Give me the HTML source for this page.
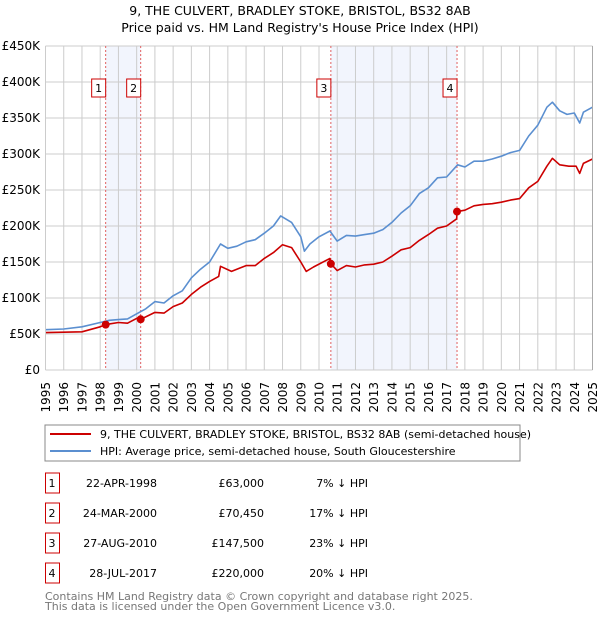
<!DOCTYPE html>
<html><head><meta charset="utf-8"><style>
body{margin:0;background:#fff;font-family:"Liberation Sans","DejaVu Sans",sans-serif;}
svg text{font-family:"DejaVu Sans","Liberation Sans",sans-serif;}
</style></head><body>
<svg id="chart" width="600" height="620" xmlns="http://www.w3.org/2000/svg">
<text x="300" y="15" text-anchor="middle" font-size="12.5" fill="#000">9, THE CULVERT, BRADLEY STOKE, BRISTOL, BS32 8AB</text>
<text x="300" y="32" text-anchor="middle" font-size="12.5" fill="#000">Price paid vs. HM Land Registry's House Price Index (HPI)</text>
<g id="plot"></g>
<rect x="45" y="425" width="475" height="36" fill="#fff" stroke="#888"/>
<line x1="50" y1="434" x2="91" y2="434" stroke="#cc0000" stroke-width="2"/>
<text x="100" y="438" font-size="11">9, THE CULVERT, BRADLEY STOKE, BRISTOL, BS32 8AB (semi-detached house)</text>
<line x1="50" y1="451" x2="91" y2="451" stroke="#5b8fd0" stroke-width="2"/>
<text x="100" y="455" font-size="11">HPI: Average price, semi-detached house, South Gloucestershire</text>
<g id="table" font-size="11"></g>
<text x="45" y="600" font-size="11" fill="#777">Contains HM Land Registry data © Crown copyright and database right 2025.</text>
<text x="45" y="610" font-size="11" fill="#777">This data is licensed under the Open Government Licence v3.0.</text>
</svg>
<script>
const hpiYears=[1995,1996,1997,1998,1998.5,1999,1999.5,2000,2000.5,2001,2001.5,2002,2002.5,2003,2003.5,2004,2004.6,2005,2005.5,2006,2006.5,2007,2007.5,2007.9,2008.5,2009,2009.2,2009.5,2010,2010.6,2011,2011.5,2012,2012.5,2013,2013.5,2014,2014.5,2015,2015.5,2016,2016.5,2017,2017.6,2018,2018.5,2019,2019.5,2020,2020.5,2021,2021.5,2022,2022.5,2022.8,2023.2,2023.6,2024,2024.3,2024.5,2025];
const hpiValues=[56,57,60,66,69,70,71,78,85,95,93,103,110,128,140,150,175,169,172,178,181,190,200,214,205,185,165,175,185,193,179,187,186,188,190,195,205,218,228,245,253,267,268,285,282,290,290,293,297,302,305,325,340,365,372,360,355,357,343,358,365];
const propYears=[1995,1997,1998,1998.3,1999,1999.5,2000.1,2000.22,2001,2001.5,2002,2002.5,2003,2003.5,2004,2004.5,2004.6,2005.2,2005.7,2006,2006.5,2007,2007.5,2008,2008.5,2009,2009.3,2009.7,2010.6,2010.65,2011,2011.5,2012,2012.5,2013,2013.5,2014,2014.5,2015,2015.5,2016,2016.5,2017,2017.55,2017.57,2018,2018.5,2019,2019.5,2020,2020.5,2021,2021.5,2022,2022.5,2022.8,2023.2,2023.7,2024.1,2024.3,2024.5,2025];
const propValues=[52,53,60,63,66,65,73,70.45,80,79,88,93,105,115,123,130,144,137,142,145,145,155,163,174,170,150,137,143,155,147.5,138,145,143,146,147,150,158,167,170,180,188,197,200,210,220,222,228,230,231,233,236,238,253,262,283,294,285,283,283,273,287,293];
const saleYears=[1998.3,2000.22,2010.65,2017.57];
const salePrices=[63,70.45,147.5,220];
const saleLabels=["1","2","3","4"];
const saleDates=["22-APR-1998","24-MAR-2000","27-AUG-2010","28-JUL-2017"];
const salePriceText=["£63,000","£70,450","£147,500","£220,000"];
const saleDiff=["7% ↓ HPI","17% ↓ HPI","23% ↓ HPI","20% ↓ HPI"];
const yTicks=[0,50,100,150,200,250,300,350,400,450];
const yTickLabels=["£0","£50K","£100K","£150K","£200K","£250K","£300K","£350K","£400K","£450K"];
const xTicks=[1995,1996,1997,1998,1999,2000,2001,2002,2003,2004,2005,2006,2007,2008,2009,2010,2011,2012,2013,2014,2015,2016,2017,2018,2019,2020,2021,2022,2023,2024,2025];

const NS="http://www.w3.org/2000/svg";
const X0=45.5,X1=592.5,Y0=370,Y1=46;
const xs=y=>X0+(y-1995)/30*(X1-X0);
const ys=v=>Y0-v/450*(Y0-Y1);
const plot=document.getElementById('plot');
function mk(tag,attrs,parent){const e=document.createElementNS(NS,tag);for(const k in attrs)e.setAttribute(k,attrs[k]);(parent||plot).appendChild(e);return e;}
for(const [a,b] of [[0,1],[2,3]]){
 const r=mk('rect',{x:xs(saleYears[a]),y:Y1,width:xs(saleYears[b])-xs(saleYears[a]),height:Y0-Y1,fill:'#f2f5fd'});
 
 
}
yTicks.forEach((t,i)=>{
 const l=mk('line',{x1:X0,x2:X1,y1:ys(t),y2:ys(t),stroke:'#ccc','stroke-width':1});
 
 
 const tx=mk('text',{x:40,y:ys(t)+4,'text-anchor':'end','font-size':12});
 
 
 tx.textContent=yTickLabels[i];
});
xTicks.forEach(t=>{
 const l=mk('line',{x1:xs(t),x2:xs(t),y1:Y1,y2:Y0,stroke:'#ccc','stroke-width':1});
 
 
 const tx=mk('text',{x:0,y:0,'text-anchor':'end','font-size':12,transform:'translate('+(xs(t)+4.5)+',382) rotate(-90)'});
 
 
 tx.textContent=t;
});
saleYears.forEach((y,i)=>{
 const l=mk('line',{x1:xs(y),x2:xs(y),y1:Y1,y2:Y0,stroke:'#e06060','stroke-width':1,'stroke-dasharray':'2,2'});
 
 
 const b=mk('rect',{x:xs(y)-14,y:79,width:14,height:18,fill:'#fff',stroke:'#cc0000'});
 
 
 const t=mk('text',{x:xs(y)-7,y:92,'text-anchor':'middle','font-size':11});
 
 
 t.textContent=saleLabels[i];
});
function line(xa,va,color,name){
 const p=mk('path',{d:xa.map((x,i)=>(i?'L':'M')+xs(x).toFixed(1)+','+ys(va[i]).toFixed(1)).join(''),fill:'none',stroke:color,'stroke-width':1.6,'stroke-linejoin':'round'});
 
 
}
line(hpiYears,hpiValues,'#5b8fd0','hpi-line');
line(propYears,propValues,'#cc0000','property-line');
saleYears.forEach((y,i)=>{
 const c=mk('circle',{cx:xs(y),cy:ys(salePrices[i]),r:4,fill:'#cc0000'});
 
 
});
mk('line',{x1:X0,x2:X0,y1:Y1,y2:Y0,stroke:'#ccc'});
mk('line',{x1:X1,x2:X1,y1:Y1,y2:Y0,stroke:'#aaa'});
const tb=document.getElementById('table');
saleLabels.forEach((s,i)=>{
 const cy=483+i*30;
 const b=mk('rect',{x:45.5,y:cy-10,width:14,height:20,fill:'#fff',stroke:'#cc0000'},tb);
 
 
 const cols=[[52,'middle',s,'table-sale-number'],[157,'end',saleDates[i],'table-sale-date'],[264,'end',salePriceText[i],'table-sale-price'],[368,'end',saleDiff[i],'table-hpi-diff']];
 cols.forEach(c=>{
  const t=mk('text',{x:c[0],y:cy+4,'text-anchor':c[1]},tb);
  
  
  t.textContent=c[2];
 });
});
</script>
</body></html>
